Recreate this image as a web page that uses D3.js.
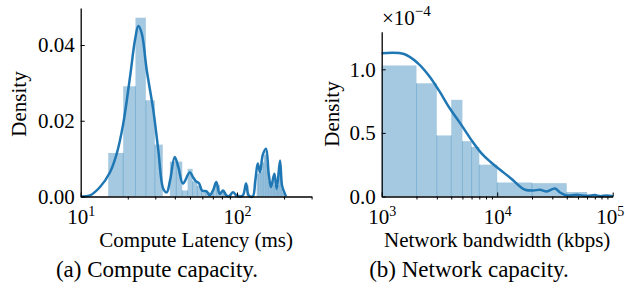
<!DOCTYPE html>
<html>
<head>
<meta charset="utf-8">
<script src="https://cdn.jsdelivr.net/npm/d3@7"></script>
<style>
  body { margin: 0; background: #fff; }
  text { font-family: "Liberation Serif", "Times New Roman", serif; fill: #000; }
</style>
</head>
<body>
<div id="my_dataviz"></div>
<script>
const width = 625
const height = 294

// (a) compute latency (ms): histogram bins + kde
const latEdges = [15, 18.7, 22.4, 26.1, 29.8, 33.5, 37.2, 40.9, 44.6, 48.3, 52, 55.7, 59.4, 63.1, 66.8,
  70.5, 74.2, 77.9, 81.6, 85.3, 89, 92.7, 96.4, 100.1, 103.8, 107.5, 111.2, 114.9, 118.6, 122.3,
  126, 129.7, 133.4, 137.1, 140.8, 144.5, 148.2, 151.9, 155.6, 159.3, 163, 166.7, 170.4, 174.1,
  177.8, 181.5, 185.2, 188.9, 192.6, 196.3, 200]
const latHist = [0.0115, 0.0291, 0.0472, 0.0254, 0.0137, 0, 0.0092, 0.0092, 0.0016, 0.0073,
  0.004, 0.0028, 0.0015, 0.0012, 0.001, 0.0028, 0.003, 0.0012, 0.0012, 0, 0.0005, 0, 0.0008, 0.0006,
  0, 0, 0, 0.003, 0, 0, 0, 0, 0.006, 0.0075, 0.0065, 0.009, 0.011, 0.012, 0.0085, 0.004,
  0.003, 0.004, 0.006, 0.003, 0.002, 0.003, 0.0075, 0.006, 0.002, 0.001]
const latKdeX = [10, 11.47, 13.29, 15.4, 17.0, 18.73, 20.68, 22.25, 23.36, 24.56, 26.44, 29.14, 31.37,
  33.78, 35.5, 37.27, 39.94, 42.11, 45.13, 49.83, 52.31, 54.67, 57.14, 59.72, 63.63, 66.89, 70.23,
  73.74, 77.5, 81.4, 85.4, 88.9, 94.3, 99.0, 103.4, 109.2, 114.2, 118.8, 126.1, 130.9, 135.7,
  140.4, 146.0, 153.3, 159.5, 165.0, 173.3, 179.5, 188.4, 194.1, 200.7, 205.8]
const latKdeY = [0, 0.0003, 0.0025, 0.0064, 0.0113, 0.0193, 0.0316, 0.0413, 0.045, 0.0431, 0.0334,
  0.0228, 0.0122, 0.002, 0.0011, 0.0042, 0.0104, 0.0078, 0.0034, 0.0064, 0.0051, 0.004, 0.0035,
  0.0016, 0.0014, 0.0003, 0.0016, 0.0038, 0.0007, 0.0016, 0.0003, 0.0001, 0.0011, 0.0003, 0,
  0.0003, 0.0034, 0.0003, 0, 0.0042, 0.0087, 0.0064, 0.0109, 0.0126, 0.006, 0.0025, 0.006, 0.002,
  0.0095, 0.0029, 0.0011, 0]
const latMajor = [10, 100]
const latMinor = [20, 30, 40, 50, 60, 70, 80, 90, 200, 300]
const latYTicks = [0, 0.02, 0.04]

// (b) network bandwidth (kbps): histogram bins + kde (x 1e-4)
const bwEdges = [1000, 2000, 3000, 4000, 5000, 6000, 7000, 10000, 20000, 40000, 60000]
const bwHist = [1.03, 0.89, 0.48, 0.76, 0.435, 0.39, 0.25, 0.11, 0.105, 0.035]
const bwKdeX = [1000, 1560, 2062, 2604, 3178, 3879, 4890, 5968, 7284, 8664, 10574, 13350, 15750,
  17410, 20540, 23480, 26830, 31650, 34980, 39970, 48790, 59550, 70290, 77620, 88720, 101000]
const bwKdeY = [1.126, 1.12, 1.047, 0.942, 0.824, 0.694, 0.563, 0.445, 0.341, 0.275, 0.21, 0.137,
  0.078, 0.053, 0.047, 0.053, 0.039, 0.063, 0.031, 0.008, 0.013, 0.005, 0.011, 0.003, 0.008, 0.003]
const bwMajor = [1000, 10000, 100000]
const bwMinor = [2000, 3000, 4000, 5000, 6000, 7000, 8000, 9000,
  20000, 30000, 40000, 50000, 60000, 70000, 80000, 90000]
const bwYTicks = [0, 0.5, 1.0]

const blue = "#1f77b4"

const svg = d3.select("#my_dataviz")
  .append("svg")
    .attr("width", width)
    .attr("height", height)

function supLabel(sel, base, exp) {
  sel.text(null)
  sel.append("tspan").text(base)
  sel.append("tspan").attr("dy", -8).style("font-size", "14px").text(exp)
}

function make_panel(p) {
  const x = d3.scaleLog().domain(p.xDomain).range(p.xRange)
  const y = d3.scaleLinear().domain(p.yDomain).range([196.5, p.yTop])

  const g = svg.append("g")

  // histogram bars
  const bins = p.hist.map((h, i) => ({ x0: p.edges[i], x1: p.edges[i + 1], h: h }))
  g.append("g")
    .selectAll("rect")
    .data(bins.filter(d => d.h > 0))
    .join("rect")
      .attr("x", d => x(d.x0))
      .attr("width", d => x(d.x1) - x(d.x0))
      .attr("y", d => y(d.h))
      .attr("height", d => y(0) - y(d.h))
      .style("fill", blue)
      .style("fill-opacity", 0.4)

  // faint edges where bars touch
  const inner = bins.slice(1).map((d, i) => ({ x: d.x0, h: Math.min(d.h, bins[i].h) }))
  g.append("g")
    .selectAll("line")
    .data(inner.filter(d => d.h > 0))
    .join("line")
      .attr("x1", d => x(d.x)).attr("x2", d => x(d.x))
      .attr("y1", y(0)).attr("y2", d => y(d.h))
      .attr("stroke", blue)
      .attr("stroke-opacity", 0.3)
      .attr("stroke-width", 1)

  // kde
  const pts = p.kdeX.map((v, i) => [v, p.kdeY[i]])
  g.append("path")
    .datum(pts)
    .attr("fill", "none")
    .attr("stroke", blue)
    .attr("stroke-width", 2.5)
    .attr("stroke-linejoin", "round")
    .attr("d", d3.line()
      .x(d => x(d[0]))
      .y(d => y(d[1]))
      .curve(d3.curveCatmullRom.alpha(0.5)))

  // x axis: minor ticks outward, major ticks inward with labels
  g.append("g")
    .attr("transform", `translate(0,${y(0)})`)
    .call(d3.axisBottom(x).tickValues(p.minor).tickSize(3).tickFormat(""))
    .call(a => a.select(".domain").remove())
  const xa = g.append("g")
    .attr("transform", `translate(0,${y(0)})`)
    .call(d3.axisBottom(x).tickValues(p.major).tickSizeInner(-4).tickSizeOuter(0).tickPadding(8))
  xa.selectAll(".tick text")
    .style("font-size", "21px")
    .attr("dy", "0.95em")
    .each(function(d) { supLabel(d3.select(this), "10", String(Math.round(Math.log10(d)))) })
  // keep the last decade label inside the page
  if (p.lastShift) xa.selectAll(".tick text").filter((d, i, n) => i === n.length - 1).attr("dx", p.lastShift)

  // y axis
  const ya = g.append("g")
    .attr("transform", `translate(${p.xRange[0]},0)`)
    .call(d3.axisLeft(y).tickValues(p.yTicks).tickSizeInner(-4).tickSizeOuter(0).tickPadding(6)
      .tickFormat(d3.format(p.yFmt)))
  ya.selectAll(".tick text").style("font-size", "21px")

  svg.selectAll(".domain").attr("stroke-width", 1.3)

  // labels
  g.append("text")
    .attr("transform", `translate(${p.yLabelX},${p.yLabelY}) rotate(-90)`)
    .attr("text-anchor", "middle")
    .style("font-size", "21px")
    .text("Density")
  g.append("text")
    .attr("x", (p.xRange[0] + p.xRange[1]) / 2)
    .attr("y", 247)
    .attr("text-anchor", "middle")
    .style("font-size", "21px")
    .text(p.xLabel)
  g.append("text")
    .attr("x", p.capX)
    .attr("y", 277)
    .attr("text-anchor", "middle")
    .style("font-size", "23px")
    .text(p.caption)
  return g
}

make_panel({
  edges: latEdges, hist: latHist, kdeX: latKdeX, kdeY: latKdeY,
  xDomain: [10, 300], xRange: [80.7, 311.6], yDomain: [0, 0.04977], yTop: 8,
  major: latMajor, minor: latMinor, yTicks: latYTicks, yFmt: ".2f",
  yLabelX: 26, yLabelY: 104, xLabel: "Compute Latency (ms)",
  capX: 157, caption: "(a) Compute capacity."
})

const right = make_panel({
  edges: bwEdges, hist: bwHist, kdeX: bwKdeX, kdeY: bwKdeY,
  xDomain: [1000, 100000], xRange: [381.7, 612.7], yDomain: [0, 1.2956], yTop: 31.7,
  major: bwMajor, minor: bwMinor, yTicks: bwYTicks, yFmt: ".1f",
  yLabelX: 339, yLabelY: 114, xLabel: "Network bandwidth (kbps)",
  capX: 469, caption: "(b) Network capacity.", lastShift: -3
})

const mult = right.append("text")
  .attr("x", 382)
  .attr("y", 25)
  .style("font-size", "21px")
mult.append("tspan").text("\u00d710")
mult.append("tspan").attr("dy", -9).style("font-size", "15px").text("\u22124")
</script>
</body>
</html>
